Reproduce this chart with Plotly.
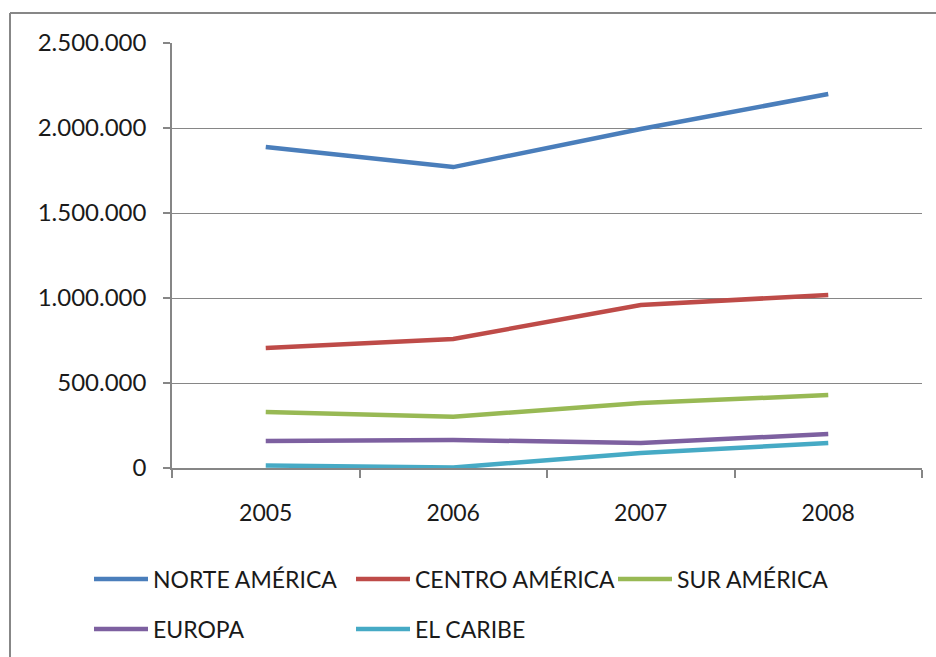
import plotly.graph_objects as go

years = ["2005", "2006", "2007", "2008"]
norte_america = [1888000, 1770000, 1994000, 2200000]
centro_america = [706000, 759000, 959000, 1018000]
sur_america = [329000, 302000, 382000, 429000]
europa = [159000, 165000, 147000, 200000]
el_caribe = [15000, 3000, 88000, 147000]

series = [
    ("NORTE AMÉRICA", norte_america, "#4A7EBB"),
    ("CENTRO AMÉRICA", centro_america, "#BE4B48"),
    ("SUR AMÉRICA", sur_america, "#98B954"),
    ("EUROPA", europa, "#7D60A0"),
    ("EL CARIBE", el_caribe, "#46AAC5"),
]
# legend entry anchor positions (pixels in the 936x657 page)
legend_pos = [(89, 579), (351, 579), (613, 579), (89, 629), (351, 629)]

FONT = "Lato"
TXT = "#1a1a1a"
W, H = 936, 657
L, R, T, B = 172, 14, 43, 189
pw = W - L - R
ph = H - T - B

def px2x(px):
    return (px - L) / pw

def py2y(py):
    return (H - B - py) / ph

fig = go.Figure()
legends = {}
for i, (name, vals, color) in enumerate(series):
    lid = "legend" if i == 0 else f"legend{i + 1}"
    fig.add_trace(go.Scatter(
        x=years, y=vals, name=name, mode="lines",
        line=dict(color=color, width=4.5),
        legend=lid,
    ))
    lx, ly = legend_pos[i]
    legends[lid] = dict(
        orientation="v",
        font=dict(family=FONT, size=23, color=TXT),
        itemwidth=54,
        bgcolor="rgba(0,0,0,0)",
        xref="container", yref="container",
        x=lx / W, y=1 - ly / H,
        xanchor="left", yanchor="middle",
    )

fig.update_layout(
    width=W, height=H,
    margin=dict(l=L, r=R, t=T, b=B, autoexpand=False),
    paper_bgcolor="white", plot_bgcolor="white",
    separators=",.",
    font=dict(family=FONT, size=23, color=TXT),
    xaxis=dict(
        type="category", range=[-0.5, 3.5], automargin=False,
        showline=True, linecolor="#868686", linewidth=1.5,
        ticks="outside", tickson="boundaries", ticklen=8, tickcolor="#868686", tickwidth=1.5,
        ticklabelstandoff=24,
        showgrid=False, tickfont=dict(family=FONT, size=23, color=TXT),
    ),
    yaxis=dict(
        range=[0, 2500000], dtick=500000, tickformat=",d", automargin=False,
        showline=True, linecolor="#868686", linewidth=1.5,
        ticks="outside", ticklen=7, tickcolor="#868686", tickwidth=1.5,
        ticklabelstandoff=12,
        showgrid=True, gridcolor="#868686", gridwidth=1.2,
        zeroline=False, tickfont=dict(family=FONT, size=24, color=TXT),
    ),
    showlegend=True,
    **legends,
)

# chart outer border (left and top edges visible)
fig.add_shape(type="line", xref="paper", yref="paper",
              x0=px2x(10), x1=px2x(10), y0=py2y(670), y1=py2y(13),
              line=dict(color="#878787", width=2))
fig.add_shape(type="line", xref="paper", yref="paper",
              x0=px2x(10), x1=px2x(950), y0=py2y(13), y1=py2y(13),
              line=dict(color="#878787", width=2))

fig.write_html("out.html", config={"displayModeBar": False},
               post_script="document.body.style.margin='0px';")
